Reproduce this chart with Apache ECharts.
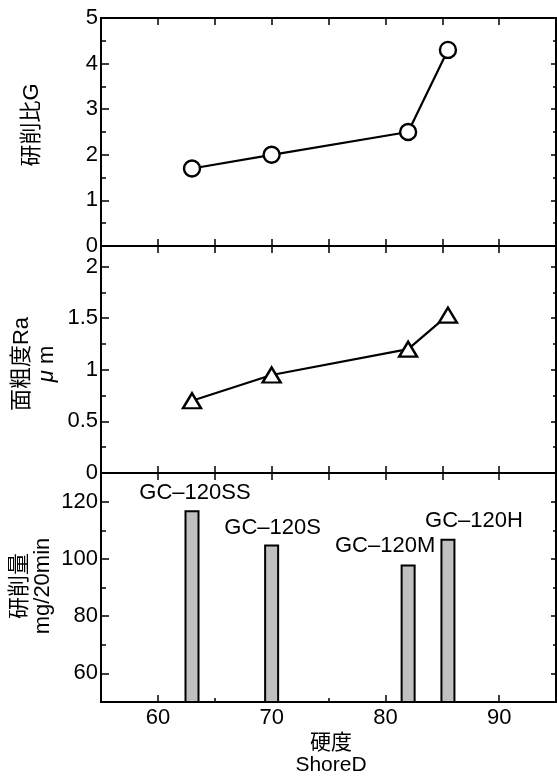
<!DOCTYPE html>
<html>
<head>
<meta charset="utf-8">
<script src="https://cdn.jsdelivr.net/npm/echarts@6/dist/echarts.min.js"></script>
<style>
  html, body { margin: 0; padding: 0; background: #fff; }
  #chart { width: 557px; height: 776px; }
</style>
</head>
<body>
<div id="chart"></div>
<script>
// Shore D hardness of each wheel grade
const hardness = [63, 70, 82, 85.5];
const grades = ['GC–120SS', 'GC–120S', 'GC–120M', 'GC–120H'];
// 研削比G
const grindingRatio = [1.7, 2.0, 2.5, 4.3];
// 面粗度Ra (μm)
const roughnessRa = [0.70, 0.95, 1.20, 1.53];
// 研削量 (mg/20min)
const removal = [117, 105, 98, 107];

// axis ranges and tick positions
const xRange = [55, 95];
const xMajor = [60, 70, 80, 90];
const xMinor = [65, 75, 85];
const xAll = [60, 65, 70, 75, 80, 85, 90];

const panels = [
  { range: [0, 5], major: [0, 1, 2, 3, 4, 5], minor: [0.5, 1.5, 2.5, 3.5, 4.5] },
  { range: [0, 2.2], major: [0, 0.5, 1, 1.5, 2], minor: [0.25, 0.75, 1.25, 1.75] },
  { range: [50, 130], major: [60, 80, 100, 120], minor: [70, 90, 110] }
];

const FONT = 'Liberation Sans, Arial, Helvetica, sans-serif';
const CJK = 'Liberation Sans, Noto Sans CJK JP, sans-serif';
const INK = '#000';

const grids = [
  { left: 101, right: 1, top: 18, height: 228 },
  { left: 101, right: 1, top: 246, height: 227 },
  { left: 101, right: 1, top: 473, height: 229 }
];

function makeAxis(opts) {
  return {
    type: 'value',
    gridIndex: opts.grid,
    position: opts.position,
    min: opts.range[0],
    max: opts.range[1],
    splitLine: { show: false },
    axisLine: { show: true, onZero: false, lineStyle: { color: INK, width: 2 } },
    axisTick: {
      show: opts.ticks.length > 0,
      inside: true,
      length: opts.tickLen,
      customValues: opts.ticks,
      lineStyle: { color: INK, width: 1.5 }
    },
    axisLabel: opts.labels ? {
      show: true,
      customValues: opts.labels,
      color: INK,
      fontFamily: FONT,
      fontSize: 22,
      margin: opts.margin
    } : { show: false }
  };
}

const xAxes = [];
const yAxes = [];
const xMain = [], yMain = [];

panels.forEach((p, g) => {
  // bottom x axis (labels only on the lowest panel)
  xMain.push(xAxes.length);
  if (g === 2) {
    xAxes.push(makeAxis({ grid: g, position: 'bottom', range: xRange, ticks: xMajor, tickLen: 7, labels: xMajor, margin: 5 }));
    xAxes.push(makeAxis({ grid: g, position: 'bottom', range: xRange, ticks: xMinor, tickLen: 4 }));
  } else {
    xAxes.push(makeAxis({ grid: g, position: 'bottom', range: xRange, ticks: xAll, tickLen: 7 }));
  }
  xAxes.push(makeAxis({ grid: g, position: 'top', range: xRange, ticks: xAll, tickLen: 7 }));

  yMain.push(yAxes.length);
  yAxes.push(makeAxis({ grid: g, position: 'left', range: p.range, ticks: p.major, tickLen: 8, labels: p.major, margin: 3 }));
  yAxes.push(makeAxis({ grid: g, position: 'left', range: p.range, ticks: p.minor, tickLen: 5 }));
  yAxes.push(makeAxis({ grid: g, position: 'right', range: p.range,
    ticks: p.major.filter(v => v > p.range[0] && v < p.range[1]), tickLen: 5 }));
  yAxes.push(makeAxis({ grid: g, position: 'right', range: p.range, ticks: p.minor, tickLen: 3 }));
});

// label nudges for the grade names above the bars
const gradeLabelOffset = [[3, 0], [1, 0], [-23, -2], [26, -1]];

const option = {
  animation: false,
  backgroundColor: '#fff',
  grid: grids,
  xAxis: xAxes,
  yAxis: yAxes,
  series: [
    {
      type: 'line',
      xAxisIndex: xMain[0], yAxisIndex: yMain[0],
      data: hardness.map((h, i) => [h, grindingRatio[i]]),
      symbol: 'circle', symbolSize: 16,
      lineStyle: { color: INK, width: 2.2 },
      itemStyle: { color: '#fff', borderColor: INK, borderWidth: 2.4 }
    },
    {
      type: 'line',
      xAxisIndex: xMain[1], yAxisIndex: yMain[1],
      data: hardness.map((h, i) => [h, roughnessRa[i]]),
      symbol: 'triangle', symbolSize: [18, 15],
      lineStyle: { color: INK, width: 2.2 },
      itemStyle: { color: '#fff', borderColor: INK, borderWidth: 2.4 }
    },
    {
      type: 'bar',
      xAxisIndex: xMain[2], yAxisIndex: yMain[2],
      barWidth: 15,
      data: hardness.map((h, i) => ({
        value: [h, removal[i]],
        name: grades[i],
        label: { offset: gradeLabelOffset[i] }
      })),
      itemStyle: { color: '#c0c0c0', borderColor: INK, borderWidth: 2 },
      label: {
        show: true,
        position: 'top',
        distance: 6,
        formatter: (p) => p.name,
        color: INK,
        fontFamily: FONT,
        fontSize: 22
      }
    }
  ],
  graphic: [
    {
      type: 'text', x: 32, y: 125, rotation: Math.PI / 2,
      style: { text: '研削比G', font: '22px ' + CJK, fill: INK, align: 'center', verticalAlign: 'middle' }
    },
    {
      type: 'text', x: 34, y: 364, rotation: Math.PI / 2,
      style: {
        text: '{a|面粗度Ra}\n{b|μ}{a| m}',
        align: 'center', verticalAlign: 'middle', fill: INK,
        rich: {
          a: { font: '22px ' + CJK, fill: INK, lineHeight: 25 },
          b: { font: 'italic 22px ' + FONT, fill: INK, lineHeight: 25 }
        }
      }
    },
    {
      type: 'text', x: 31, y: 586, rotation: Math.PI / 2,
      style: { text: '研削量\nmg/20min', font: '22px ' + CJK, lineHeight: 23, fill: INK, align: 'center', verticalAlign: 'middle' }
    },
    {
      type: 'text', x: 331, y: 754,
      style: { text: '硬度\nShoreD', font: '21px ' + CJK, lineHeight: 22, fill: INK, align: 'center', verticalAlign: 'middle' }
    }
  ]
};

const chart = echarts.init(document.getElementById('chart'), null, { renderer: 'canvas' });
chart.setOption(option);
</script>
</body>
</html>
